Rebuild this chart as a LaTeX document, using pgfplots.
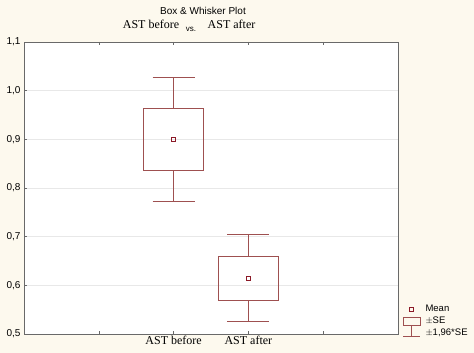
\documentclass[border=0pt]{standalone}
\usepackage{pgfplots}
\pgfplotsset{compat=1.18}
\usepackage{fontspec}
\setmainfont{Liberation Serif}
\newfontfamily\arial{Liberation Sans}
\definecolor{bg}{rgb}{0.992,0.976,0.933}
\definecolor{gridgray}{rgb}{0.91,0.91,0.91}
\definecolor{axisgray}{rgb}{0.41,0.41,0.41}
\definecolor{boxred}{RGB}{158,80,80}
\definecolor{meanred}{RGB}{140,26,40}
\pgfplotstableread{
x y
1.6 0.8356
2.4 0.8356
2.4 0.9637
1.6 0.9637
1.6 0.8356
2 nan
2 0.9637
2 1.0267
2 nan
1.72 1.0267
2.28 1.0267
2 nan
2 0.8356
2 0.7726
2 nan
1.72 0.7726
2.28 0.7726
}\before
\pgfplotstableread{
x y
2.6 0.5692
3.4 0.5692
3.4 0.6596
2.6 0.6596
2.6 0.5692
3 nan
3 0.6596
3 0.7040
3 nan
2.72 0.7040
3.28 0.7040
3 nan
3 0.5692
3 0.5247
3 nan
2.72 0.5247
3.28 0.5247
}\after
\begin{document}
\begin{tikzpicture}
\fill[color=bg] (0pt,0pt) rectangle (474pt,353pt);
\fill[color=white] (24pt,19pt) rectangle (398pt,311pt);
\useasboundingbox (0pt,0pt) rectangle (474pt,353pt);
\begin{axis}[
  at={(24pt,19pt)}, anchor=south west,
  scale only axis, width=374pt, height=292pt,
  xmin=0, xmax=5, ymin=0.5, ymax=1.1,
  xtick={1,2,3,4}, xticklabels={,AST before,AST after,},
  ytick={0.5,0.6,0.7,0.8,0.9,1.0,1.1},
  ytick pos=left, xtick pos=both,
  tick align=inside, major tick length=3pt,
  tick style={color=axisgray, line width=0.6pt},
  axis line style={color=axisgray, line width=0.8pt},
  ymajorgrids, grid style={color=gridgray, line width=0.6pt},
  unbounded coords=jump,
  /pgf/number format/assume math mode=true,
  yticklabel style={font=\arial\fontsize{10}{12}\selectfont, /pgf/number format/.cd, use comma, fixed, fixed zerofill, precision=1},
  xticklabel style={font=\fontsize{12}{14}\selectfont, yshift=1pt},
  legend style={at={(1,0)}, anchor=south west, xshift=4pt, yshift=-5.5pt,
    draw=none, fill=none, inner sep=0pt, row sep=0pt,
    font=\arial\fontsize{9.5}{11}\selectfont,
    nodes={inner sep=1.5pt, text height=7pt, text depth=2pt},
    /tikz/every odd column/.style={column sep=3.5pt}},
  legend cell align=left,
]
\addlegendimage{legend image code/.code={
  \path[draw=none] (0pt,-4pt) rectangle (18pt,4pt);
  \draw[draw=meanred, line width=1pt] (7.5pt,-1.8pt) rectangle (11.1pt,1.8pt);}}
\addlegendentry{Mean}
\addlegendimage{legend image code/.code={
  \path[draw=none] (0pt,-4pt) rectangle (18pt,4pt);
  \draw[draw=boxred, line width=0.7pt] (1pt,-4pt) rectangle (18pt,4pt);}}
\addlegendentry{$\pm$SE}
\addlegendimage{legend image code/.code={
  \path[draw=none] (0pt,-4pt) rectangle (18pt,4pt);
  \draw[overlay, draw=boxred, line width=0.7pt] (9.5pt,8pt) -- (9.5pt,-3pt) (1pt,-3pt) -- (18pt,-3pt);}}
\addlegendentry{$\pm$1,96*SE}
% box = mean +- SE, whiskers = mean +- 1.96 SE
\addplot[forget plot, draw=boxred, line width=1pt, mark=none, line join=miter] table {\before};
\addplot[forget plot, draw=boxred, line width=1pt, mark=none, line join=miter] table {\after};
\addplot[forget plot, only marks, mark=square, mark size=1.8pt,
  mark options={draw=meanred, solid, line width=1pt}] coordinates {(2,0.900) (3,0.6144)};
\end{axis}
\node[anchor=base, font=\arial\fontsize{10}{12}\selectfont, inner sep=0pt] at (203pt,338.5pt) {Box \& Whisker Plot};
\node[anchor=base, font=\fontsize{12}{14}\selectfont, inner sep=0pt] at (151pt,324.5pt) {AST before};
\node[anchor=base, font=\arial\fontsize{8}{10}\selectfont, inner sep=0pt] at (191pt,321.5pt) {vs.};
\node[anchor=base, font=\fontsize{12}{14}\selectfont, inner sep=0pt] at (231.5pt,324.5pt) {AST after};
\end{tikzpicture}
\end{document}
